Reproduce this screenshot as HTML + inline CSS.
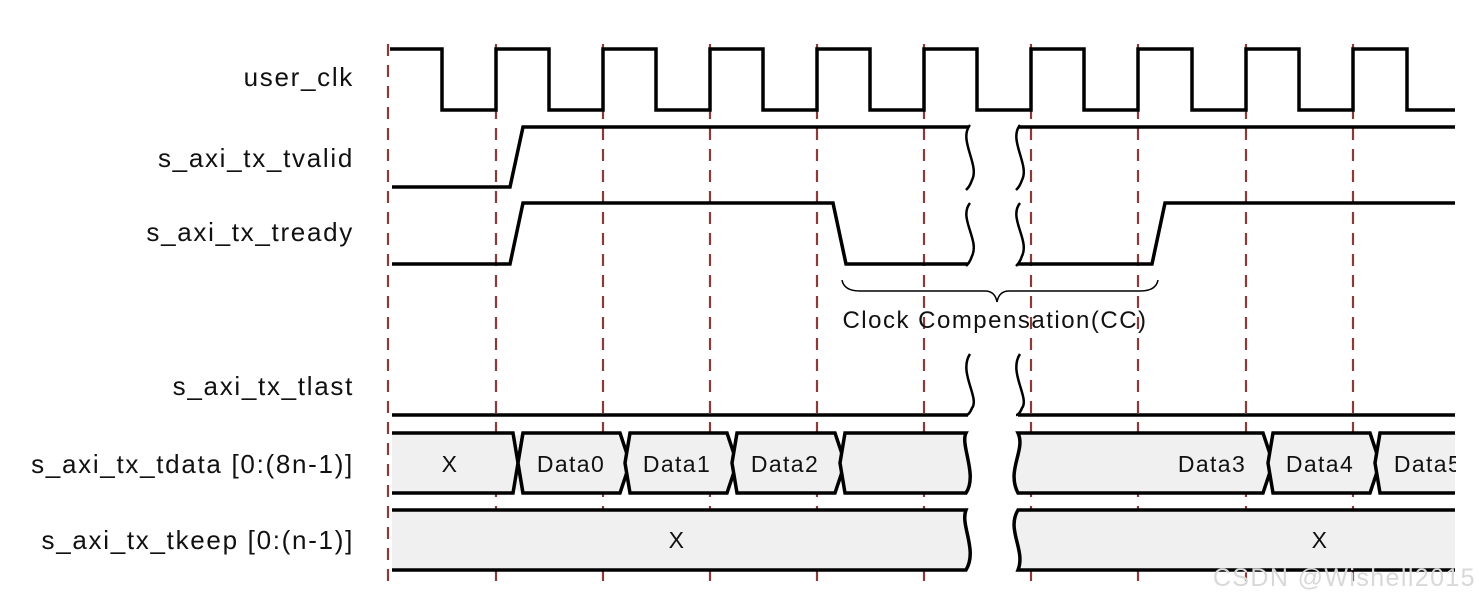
<!DOCTYPE html>
<html><head><meta charset="utf-8"><style>
html,body{margin:0;padding:0;background:#fff;}
svg{display:block;font-family:"Liberation Sans",Arial,sans-serif;}
</style></head><body>
<svg width="1479" height="603" viewBox="0 0 1479 603" xmlns="http://www.w3.org/2000/svg">
<g stroke="#8b3a3a" stroke-width="2.2" stroke-dasharray="12,9">
<line x1="388" y1="44" x2="388" y2="588"/>
<line x1="496" y1="44" x2="496" y2="588"/>
<line x1="603" y1="44" x2="603" y2="588"/>
<line x1="710" y1="44" x2="710" y2="588"/>
<line x1="817" y1="44" x2="817" y2="588"/>
<line x1="924" y1="44" x2="924" y2="588"/>
<line x1="1031" y1="44" x2="1031" y2="588"/>
<line x1="1138" y1="44" x2="1138" y2="588"/>
<line x1="1246" y1="44" x2="1246" y2="588"/>
<line x1="1353" y1="44" x2="1353" y2="588"/>
</g>
<g font-size="26" fill="#111" text-anchor="end" letter-spacing="1.7">
<text x="354" y="86">user_clk</text>
<text x="354" y="167">s_axi_tx_tvalid</text>
<text x="354" y="241">s_axi_tx_tready</text>
<text x="354" y="395">s_axi_tx_tlast</text>
<text x="354" y="473">s_axi_tx_tdata [0:(8n-1)]</text>
<text x="354" y="549">s_axi_tx_tkeep [0:(n-1)]</text>
</g>
<g fill="none" stroke="#000" stroke-width="3.5" stroke-linejoin="miter">
<path d="M390,49 H442 V110 H496 V49 H549 V110 H603 V49 H656 V110 H710 V49 H763 V110 H817 V49 H870 V110 H924 V49 H977 V110 H1031 V49 H1084 V110 H1138 V49 H1192 V110 H1246 V49 H1299 V110 H1353 V49 H1407 V110 H1455"/>
<path d="M392,187 H510 L523,127 H968"/>
<path d="M1018,127 H1455"/>
<path d="M392,264 H510 L523,203 H833 L846,264 H968"/>
<path d="M1018,264 H1152 L1165,203 H1455"/>
<path d="M392,415 H968"/>
<path d="M1018,415 H1455"/>
<path d="M842,280 Q844,291 860,291 H985 Q995,291 997,302 Q999,291 1009,291 H1140 Q1156,291 1158,280" stroke-width="1.5"/>
<path d="M970,125 C958,140 980,165 972,180 C970,186 968,188 966,190" stroke-width="2.5"/>
<path d="M1020,125 C1008,140 1030,165 1022,180 C1020,186 1018,188 1016,190" stroke-width="2.5"/>
<path d="M970,203 C958,218 980,240 972,256 C970,262 968,264 966,266" stroke-width="2.5"/>
<path d="M1020,203 C1008,218 1030,240 1022,256 C1020,262 1018,264 1016,266" stroke-width="2.5"/>
<path d="M970,354 C958,372 980,398 972,408 C970,413 968,415 966,415" stroke-width="2.5"/>
<path d="M1020,354 C1008,372 1030,398 1022,408 C1020,413 1018,415 1016,415" stroke-width="2.5"/>
</g>
<text x="995" y="328" font-size="24" fill="#111" text-anchor="middle" letter-spacing="1.5">Clock Compensation(CC)</text>
<g fill="#f0f0f0" stroke="#000" stroke-width="3.5">
<path d="M392,433 H513 L518,463 L513,493 H392 Z" stroke="none"/>
<path d="M392,433 H513 L523,493 M392,493 H513 L523,433"/>
<path d="M523,433 H620 L630,463 L620,493 H523 L518,463 Z"/>
<path d="M630,433 H727 L737,463 L727,493 H630 L625,463 Z"/>
<path d="M737,433 H835 L845,463 L835,493 H737 L732,463 Z"/>
<path d="M845,433 H966 C960,445 978,475 966,493 H845 L840,463 Z"/>
<path d="M1018,433 H1263 L1273,463 L1263,493 H1018 C1006,470 1026,450 1018,433 Z"/>
<path d="M1273,433 H1370 L1380,463 L1370,493 H1273 L1268,463 Z"/>
<path d="M1455,433 H1380 L1375,463 L1380,493 H1455" />
<path d="M392,510 H966 C960,525 978,550 966,570 H392" />
<path d="M1455,510 H1018 C1006,530 1026,550 1018,570 H1455"/>
</g>
<g font-size="23" fill="#111" text-anchor="middle" letter-spacing="1.4">
<text x="450" y="472">X</text>
<text x="571" y="472">Data0</text>
<text x="677" y="472">Data1</text>
<text x="785" y="472">Data2</text>
<text x="1212" y="472">Data3</text>
<text x="1320" y="472">Data4</text>
<text x="1428" y="472">Data5</text>
<text x="677" y="548">X</text>
<text x="1320" y="548">X</text>
</g>
<rect x="1456" y="425" width="23" height="150" fill="#fff"/>
<text x="1476" y="586" font-size="25" fill="#d8d8d8" text-anchor="end" letter-spacing="1.4">CSDN @Wishell2015</text>
</svg>
</body></html>
